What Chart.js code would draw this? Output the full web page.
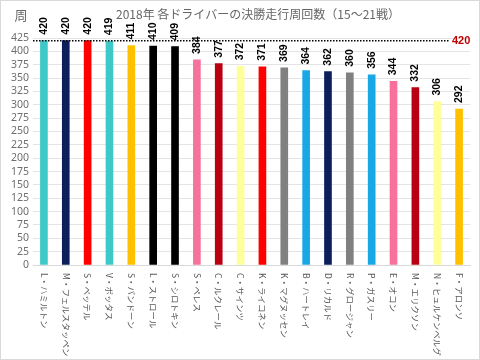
<!DOCTYPE html>
<html><head><meta charset="utf-8">
<script src="https://cdn.jsdelivr.net/npm/chart.js@4/dist/chart.umd.min.js"></script>
<style>html,body{margin:0;padding:0;background:#fff}canvas{display:block}</style>
</head><body>
<canvas id="c" width="480" height="360"></canvas>
<script>
const chartTitle = '2018年 各ドライバーの決勝走行周回数（15～21戦）';
const unitLabel = '周';
const categories = ['L・ハミルトン','M・フェルスタッペン','S・ベッテル','V・ボッタス','S・バンドーン','L・ストロール','S・シロトキン','S・ペレス','C・ルクレール','C・サインツ','K・ライコネン','K・マグヌッセン','B・ハートレイ','D・リカルド','R・グロージャン','P・ガスリー','E・オコン','M・エリクソン','N・ヒュルケンベルグ','F・アロンソ'];
const laps = [420,420,420,419,411,410,409,384,377,372,371,369,364,362,360,356,344,332,306,292];
const maxLapsLine = 420;
const yTickValues = [0,25,50,75,100,125,150,175,200,225,250,275,300,325,350,375,400,425];
const barColors = ['#3ec8c8','#0c1f5a','#ff0000','#3ec8c8','#ffc000','#000000','#000000','#f8709c','#b80012','#ffff99','#ff0000','#808080','#18a8e6','#0c1f5a','#808080','#18a8e6','#f8709c','#b80012','#ffff99','#ffc000'];

const JP = '"Noto Sans CJK JP","Noto Sans",sans-serif';

const overlay = {
  id: 'overlay',
  beforeDraw(chart) {
    const ctx = chart.ctx;
    ctx.save();
    ctx.fillStyle = '#ffffff';
    ctx.fillRect(0, 0, chart.width, chart.height);
    ctx.restore();
  },
  afterDraw(chart) {
    const ctx = chart.ctx;
    const xs = chart.scales.x, ys = chart.scales.y;
    const area = chart.chartArea;
    ctx.save();
    // title
    ctx.fillStyle = '#666666';
    ctx.font = '12px ' + JP;
    ctx.textAlign = 'center';
    ctx.textBaseline = 'middle';
    ctx.fillText(chartTitle, 258, 14);
    // unit
    ctx.font = '13px ' + JP;
    ctx.fillText(unitLabel, 21, 15);
    // dotted max line
    const yl = ys.getPixelForValue(maxLapsLine);
    ctx.strokeStyle = '#000000';
    ctx.lineWidth = 1.5;
    ctx.setLineDash([1.5, 1.5]);
    ctx.beginPath();
    ctx.moveTo(area.left, yl);
    ctx.lineTo(area.right - 21, yl);
    ctx.stroke();
    ctx.setLineDash([]);
    ctx.fillStyle = '#c00000';
    ctx.font = 'bold 11px "Liberation Sans",sans-serif';
    ctx.textAlign = 'left';
    ctx.fillText(String(maxLapsLine), area.right - 18, yl);
    // value labels
    ctx.fillStyle = '#000000';
    ctx.font = 'bold 10.5px "Liberation Sans",sans-serif';
    laps.forEach((v, i) => {
      const x = xs.getPixelForValue(i);
      const y = ys.getPixelForValue(v);
      ctx.save();
      ctx.translate(x, y - 6);
      ctx.rotate(-Math.PI / 2);
      ctx.textAlign = 'left';
      ctx.textBaseline = 'middle';
      ctx.fillText(String(v), 0, 0);
      ctx.restore();
    });
    // category labels
    ctx.fillStyle = '#595959';
    ctx.font = '8.5px ' + JP;
    categories.forEach((c, i) => {
      const x = xs.getPixelForValue(i);
      ctx.save();
      ctx.translate(x, area.bottom + 8);
      ctx.rotate(Math.PI / 2);
      ctx.textAlign = 'left';
      ctx.textBaseline = 'middle';
      ctx.fillText(c, 0, 0);
      ctx.restore();
    });
    // frame
    ctx.strokeStyle = '#d9d9d9';
    ctx.lineWidth = 1;
    ctx.strokeRect(0.5, 0.5, chart.width - 1, chart.height - 1);
    ctx.restore();
  }
};

new Chart(document.getElementById('c'), {
  type: 'bar',
  data: {
    labels: categories,
    datasets: [{ data: laps, backgroundColor: barColors, barThickness: 7 }]
  },
  options: {
    responsive: false,
    animation: false,
    devicePixelRatio: 1,
    layout: { padding: { top: 38, right: 10, bottom: 95, left: 0 } },
    plugins: { legend: { display: false }, tooltip: { enabled: false }, title: { display: false } },
    scales: {
      x: {
        grid: { display: false },
        border: { color: '#d9d9d9' },
        ticks: { display: false },
        afterFit(s) { s.height = 0; }
      },
      y: {
        min: yTickValues[0], max: yTickValues[yTickValues.length - 1],
        afterBuildTicks(s) { s.ticks = yTickValues.map(v => ({ value: v })); },
        ticks: { autoSkip: false, color: '#6e6e6e', font: { size: 10.5, family: '"Noto Sans",sans-serif' }, padding: 4 },
        grid: { color: '#e4e4e4', drawTicks: false },
        border: { display: false },
        afterFit(s) { s.width = 33; }
      }
    }
  },
  plugins: [overlay]
});
</script>
</body></html>
